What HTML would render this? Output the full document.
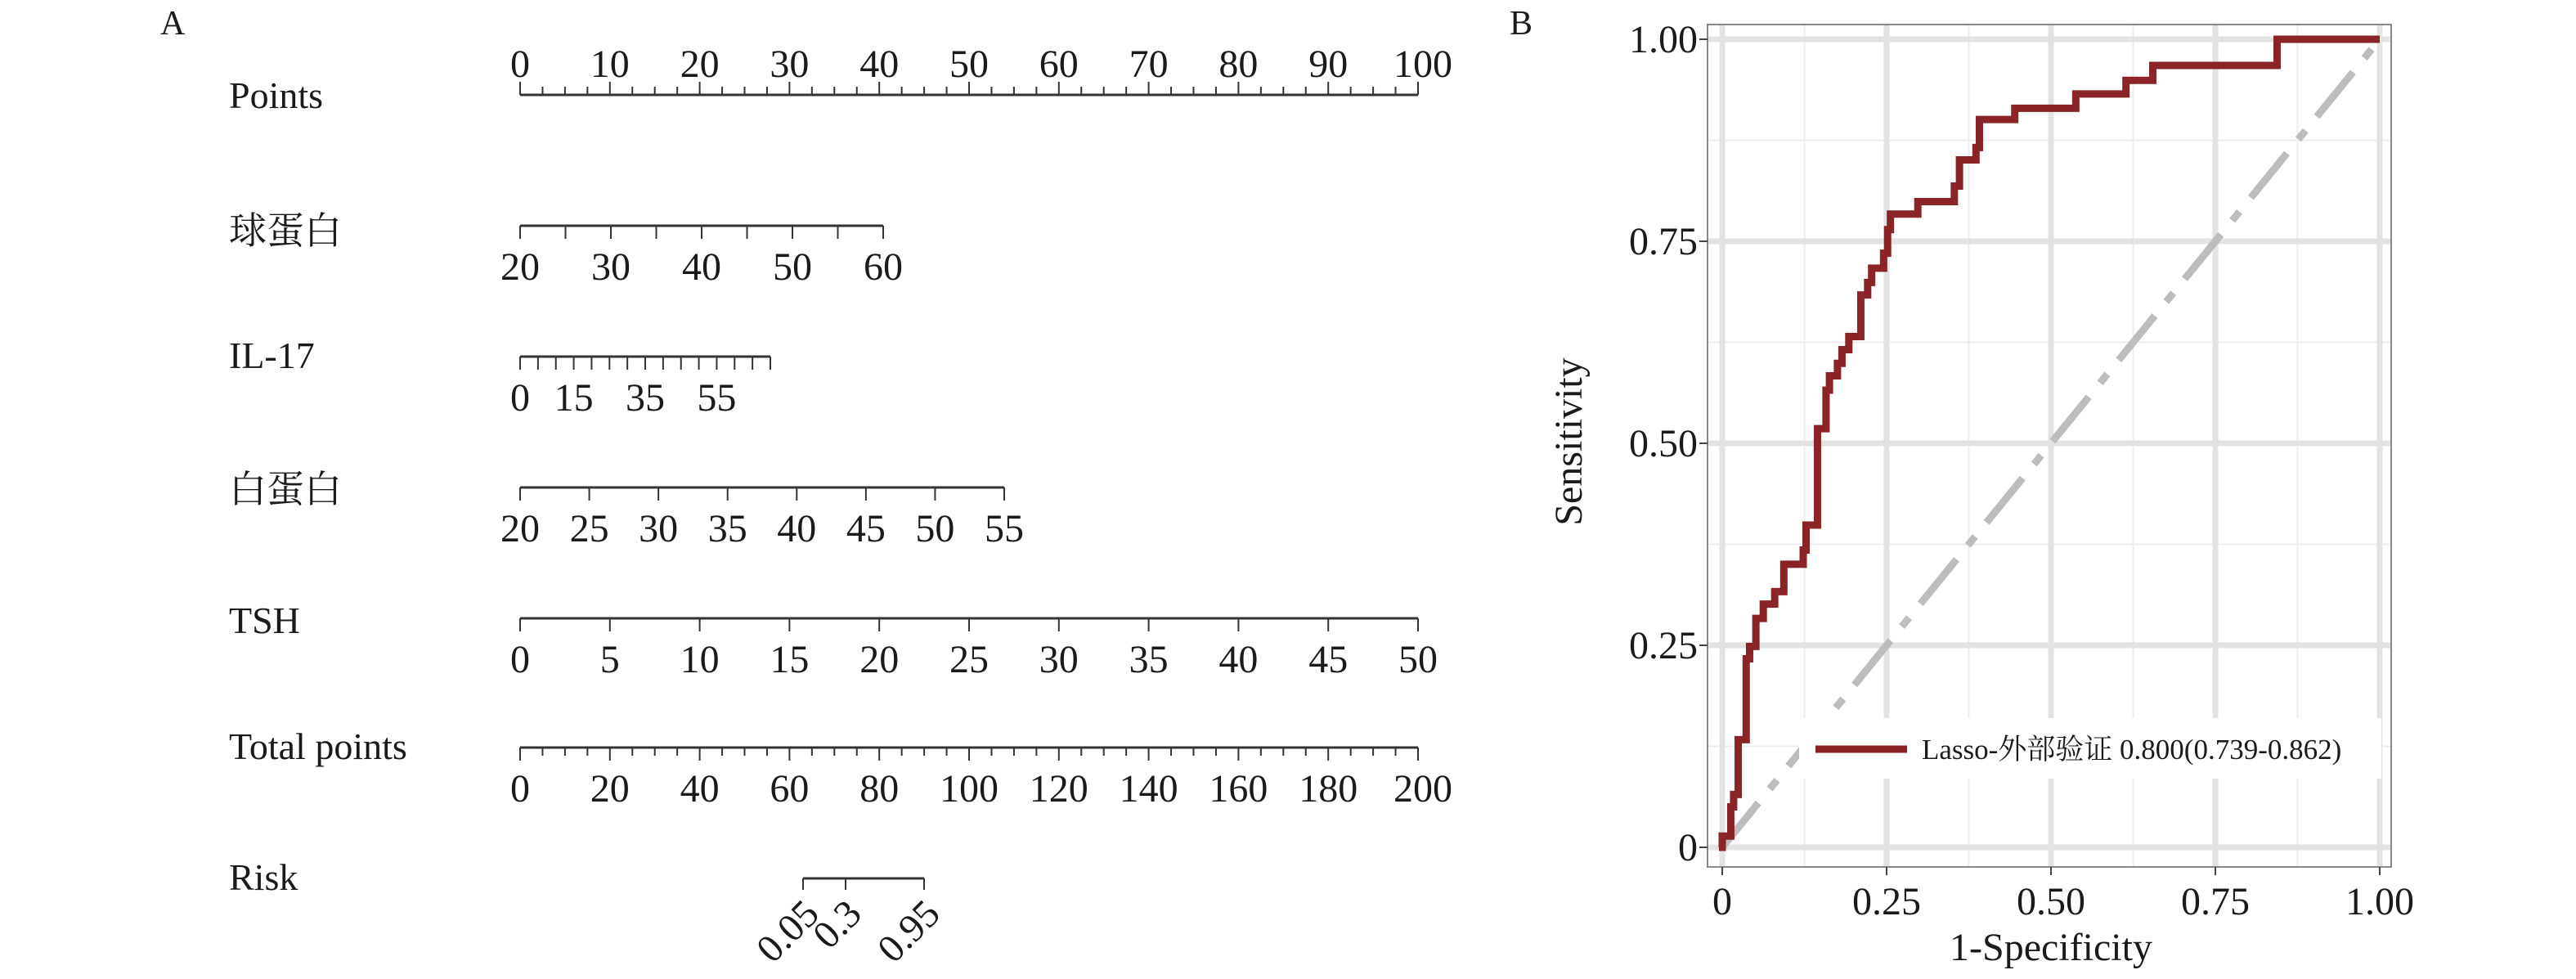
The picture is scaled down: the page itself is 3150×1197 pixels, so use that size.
<!DOCTYPE html>
<html><head><meta charset="utf-8">
<style>
html,body{margin:0;padding:0;background:#fff;}
svg{display:block;}
text{font-family:"Liberation Serif","Noto Serif CJK SC","Noto Sans CJK SC",serif;fill:#1a1a1a;}
</style></head>
<body>
<svg id="s" width="3150" height="1197" viewBox="0 0 3150 1197" xmlns="http://www.w3.org/2000/svg">
<text x="196" y="42" font-size="42">A</text>
<text x="1846" y="42" font-size="42">B</text>
</svg>
<script>
const S=document.getElementById('s');const NS='http://www.w3.org/2000/svg';
function el(t,a,txt){const e=document.createElementNS(NS,t);for(const k in a)e.setAttribute(k,a[k]);if(txt!==undefined)e.textContent=txt;S.appendChild(e);return e;}
const L=636,R=1734,FS=48,col='#333';
function label(t,y){el('text',{x:280,y:y+16,'font-size':46},t);}
function axis(y,x0,x1,ticks,up,labels){
 el('line',{x1:x0,y1:y,x2:x1,y2:y,stroke:col,'stroke-width':3});
 ticks.forEach(t=>{const len=t[1]?16:10;el('line',{x1:t[0],y1:y,x2:t[0],y2:up?y-len:y+len,stroke:col,'stroke-width':2});});
 labels.forEach(l=>{el('text',{x:l[0],y:up?y-22:y+66,'font-size':FS,'text-anchor':'middle'},l[1]);});
}
label('Points',116);
{let tk=[],lb=[];for(let i=0;i<=40;i++){const x=L+(R-L)*i/40;tk.push([x,i%4==0]);if(i%4==0)lb.push([x,String(i*2.5)]);}
 lb[lb.length-1][0]=R+6;
 axis(116,L,R,tk,true,lb);}
label('球蛋白',282);
{let tk=[],lb=[];const x1=1080;for(let v=20;v<=60;v+=5){const x=L+(x1-L)*(v-20)/40;tk.push([x,true]);if(v%10==0)lb.push([x,String(v)]);}axis(276,L,x1,tk,false,lb);}
label('IL-17',434);
{let tk=[],lb=[];const x1=942;for(let v=0;v<=70;v+=5){const x=L+(x1-L)*v/70;tk.push([x,true]);if([0,15,35,55].includes(v))lb.push([x,String(v)]);}axis(436,L,x1,tk,false,lb);}
label('白蛋白',598);
{let tk=[],lb=[];const x1=1228;for(let v=20;v<=55;v+=5){const x=L+(x1-L)*(v-20)/35;tk.push([x,true]);lb.push([x,String(v)]);}axis(596,L,x1,tk,false,lb);}
label('TSH',758);
{let tk=[],lb=[];for(let v=0;v<=50;v+=5){const x=L+(R-L)*v/50;tk.push([x,true]);lb.push([x,String(v)]);}axis(756,L,R,tk,false,lb);}
label('Total points',912);
{let tk=[],lb=[];for(let v=0;v<=200;v+=5){const x=L+(R-L)*v/200;tk.push([x,v%20==0]);if(v%20==0)lb.push([x,String(v)]);}lb[lb.length-1][0]=R+6;axis(914,L,R,tk,false,lb);}
label('Risk',1072);
{const y=1074;el('line',{x1:982,y1:y,x2:1130,y2:y,stroke:col,'stroke-width':3});
 [[982,'0.05'],[1034,'0.3'],[1130,'0.95']].forEach(t=>{el('line',{x1:t[0],y1:y,x2:t[0],y2:y+14,stroke:col,'stroke-width':2});
  const tx=t[0]+22,ty=y+46;
  el('text',{x:tx,y:ty,'font-size':FS,'text-anchor':'end',transform:`rotate(-45 ${tx} ${ty})`},t[1]);});}
// Panel B
const X0=2106,X1=2910,Y0=1036,Y1=48;
const FL=2088,FR=2924,FT=30,FB=1060;
const fx=v=>X0+(X1-X0)*v, fy=v=>Y0-(Y0-Y1)*v;
[0.125,0.375,0.625,0.875].forEach(v=>{el('line',{x1:FL,y1:fy(v),x2:FR,y2:fy(v),stroke:'#ececec','stroke-width':2});el('line',{x1:fx(v),y1:FT,x2:fx(v),y2:FB,stroke:'#ececec','stroke-width':2});});
[0,0.25,0.5,0.75,1].forEach(v=>{el('line',{x1:FL,y1:fy(v),x2:FR,y2:fy(v),stroke:'#e3e3e3','stroke-width':7});el('line',{x1:fx(v),y1:FT,x2:fx(v),y2:FB,stroke:'#e3e3e3','stroke-width':7});});
el('rect',{x:FL,y:FT,width:FR-FL,height:FB-FT,fill:'none',stroke:'#888','stroke-width':2});
const lab=['0','0.25','0.50','0.75','1.00'];
[0,0.25,0.5,0.75,1].forEach((v,i)=>{
 el('line',{x1:FL-10,y1:fy(v),x2:FL,y2:fy(v),stroke:'#444','stroke-width':2});
 el('text',{x:FL-12,y:fy(v)+16,'font-size':48,'text-anchor':'end'},lab[i]);
 el('line',{x1:fx(v),y1:FB,x2:fx(v),y2:FB+10,stroke:'#444','stroke-width':2});
 el('text',{x:fx(v),y:1118,'font-size':48,'text-anchor':'middle'},lab[i]);
});
el('text',{x:2508,y:1174,'font-size':48,'text-anchor':'middle'},'1-Specificity');
el('text',{x:1934,y:540,'font-size':48,'text-anchor':'middle',transform:'rotate(-90 1934 540)'},'Sensitivity');
el('line',{x1:fx(0),y1:fy(0),x2:fx(1),y2:fy(1),stroke:'#bdbdbd','stroke-width':9,'stroke-dasharray':'70 22 14 22'});
const zp=[[355,1345],[370,1298],[375,1278],[383,1190],[397,1060],[403,1040],[414,995],[427,972],[447,952],[463,908],[497,885],[502,845],[522,690],[537,628],[543,605],[557,585],[565,563],[577,542],[598,475],[610,455],[617,432],[638,408],[645,370],[650,345],[698,325],[762,300],[771,258],[800,238],[806,193],[868,175],[975,152],[1063,130],[1110,106],[1328,64]];
let d=`M${fx(0)-4} ${fy(0)}`;let cy=fy(0);
zp.forEach(p=>{const x=fx((p[0]-355)/1153),y=fy((1363-p[1])/1299);d+=` L${x} ${cy} L${x} ${y}`;cy=y;});
d+=` L${fx(1)} ${cy}`;
el('path',{d:d,fill:'none',stroke:'#8b2428','stroke-width':9,'stroke-linejoin':'miter'});
el('rect',{x:2200,y:878,width:712,height:74,fill:'#fff'});
el('line',{x1:2220,y1:916,x2:2332,y2:916,stroke:'#8b2428','stroke-width':9});
el('text',{x:2350,y:928,'font-size':35},'Lasso-外部验证 0.800(0.739-0.862)');
</script>
</body></html>
